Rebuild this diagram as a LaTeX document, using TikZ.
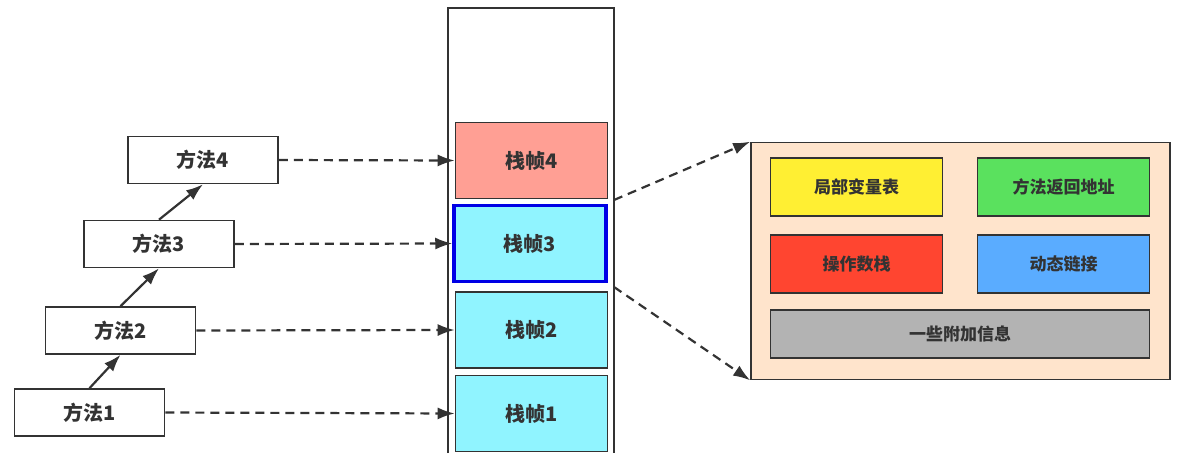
\documentclass[tikz,border=0pt]{standalone}
\usepackage{fontspec}
\usetikzlibrary{arrows.meta}
\newfontfamily\cjk{Noto Sans CJK SC}
\definecolor{linegray}{HTML}{333333}
\definecolor{framered}{HTML}{FF9F94}
\definecolor{framecyan}{HTML}{90F4FF}
\definecolor{framepeach}{HTML}{FFE4CC}
\definecolor{partyellow}{HTML}{FFEF33}
\definecolor{partgreen}{HTML}{5AE15E}
\definecolor{partred}{HTML}{FF4530}
\definecolor{partblue}{HTML}{5AACFF}
\definecolor{partgray}{HTML}{B3B3B3}
\tikzset{
  methodbox/.style={draw=linegray, line width=1.6pt, fill=white, minimum width=150pt, minimum height=47pt, font=\cjk\bfseries\fontsize{20}{20}\selectfont, text=linegray},
  framebox/.style={draw=linegray, line width=1.6pt, minimum width=152pt, minimum height=76pt, font=\cjk\bfseries\fontsize{20}{20}\selectfont, text=linegray},
  partbox/.style={draw=linegray, line width=1.6pt, minimum width=172pt, minimum height=58pt, font=\cjk\bfseries\fontsize{17}{17}\selectfont, text=linegray},
  callarrow/.style={-{Latex[length=17pt,width=12pt]}, line width=2.2pt, draw=linegray},
  pusharrow/.style={-{Latex[length=17pt,width=12pt]}, line width=2.2pt, draw=linegray, dash pattern=on 9pt off 6pt}
}
\begin{document}
\begin{tikzpicture}[x=1pt, y=-1pt]
        \useasboundingbox (0,0) rectangle (1186,453);
        % the stack
        \draw[linegray, line width=1.6pt] (448,453) -- (448,8) -- (614,8) -- (614,453);
        \node[framebox, fill=framered] (f4) at (531.5,160.5) {栈帧4};
        \node[framebox, fill=framecyan, draw=blue!90!black, line width=3.5pt] (f3) at (530,243.5) {栈帧3};
        \node[framebox, fill=framecyan] (f2) at (531.5,330) {栈帧2};
        \node[framebox, fill=framecyan] (f1) at (531.5,413.5) {栈帧1};
        % the methods
        \node[methodbox] (m4) at (203,160) {方法4};
        \node[methodbox] (m3) at (159,244) {方法3};
        \node[methodbox] (m2) at (120.5,330.5) {方法2};
        \node[methodbox] (m1) at (89.5,412.5) {方法1};
        \draw[callarrow] (m1.north) -- (m2.south);
        \draw[callarrow] (m2.north) -- (m3.south);
        \draw[callarrow] (m3.north) -- (m4.south);
        \draw[pusharrow] (m4.east) -- (f4.west);
        \draw[pusharrow] (m3.east) -- (f3.west);
        \draw[pusharrow] (m2.east) -- (f2.west);
        \draw[pusharrow] (m1.east) -- (f1.west);
        % inside one frame
        \node[draw=linegray, line width=1.6pt, fill=framepeach, minimum width=419pt, minimum height=237pt] (frame) at (960.5,261) {};
        \node[partbox, fill=partyellow] (locals) at (856.5,187) {局部变量表};
        \node[partbox, fill=partgreen] (ret) at (1063.5,187) {方法返回地址};
        \node[partbox, fill=partred] (opstack) at (856.5,264) {操作数栈};
        \node[partbox, fill=partblue] (dynlink) at (1063.5,264) {动态链接};
        \node[partbox, fill=partgray, minimum width=379pt, minimum height=48pt] (extra) at (960,334) {一些附加信息};
        \coordinate (f3top) at (614,200);
        \coordinate (f3bot) at (614,287);
        \draw[pusharrow] (f3top) -- (frame.north west);
        \draw[pusharrow] (f3bot) -- (frame.south west);
    \end{tikzpicture}
\end{document}
